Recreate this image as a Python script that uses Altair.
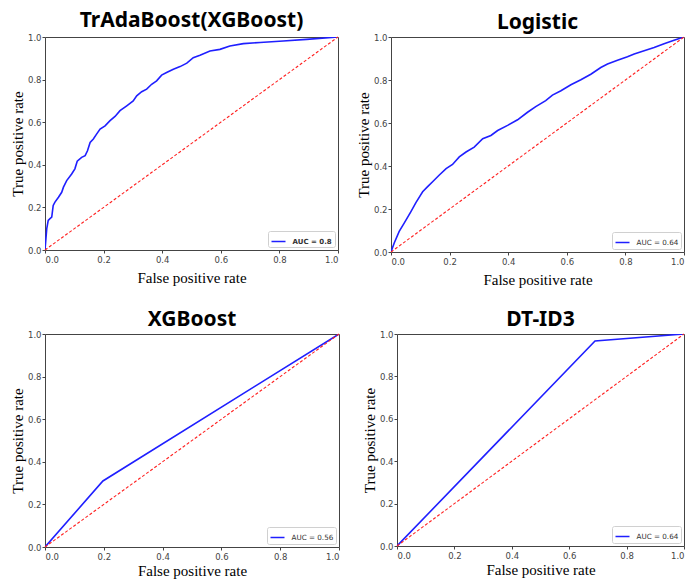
import altair as alt
import pandas as pd

titles = ["TrAdaBoost(XGBoost)", "Logistic", "XGBoost", "DT-ID3"]
auc_labels = ["AUC = 0.8", "AUC = 0.64", "AUC = 0.56", "AUC = 0.64"]
tick_values = [0.0, 0.2, 0.4, 0.6, 0.8, 1.0]
diag_x = [0.0, 1.0]
diag_y = [0.0, 1.0]

tr_fpr = [0, 0.006, 0.011, 0.017, 0.023, 0.028, 0.034, 0.046, 0.057, 0.063,
          0.074, 0.091, 0.102, 0.110, 0.125, 0.137, 0.145, 0.154, 0.165, 0.176,
          0.188, 0.205, 0.222, 0.239, 0.256, 0.279, 0.301, 0.313, 0.330, 0.347,
          0.364, 0.381, 0.398, 0.415, 0.438, 0.461, 0.484, 0.506, 0.529, 0.563,
          0.597, 0.631, 0.677, 0.734, 0.813, 0.893, 1.0]
tr_tpr = [0, 0.10, 0.139, 0.147, 0.154, 0.209, 0.225, 0.248, 0.271, 0.295,
          0.326, 0.357, 0.381, 0.417, 0.435, 0.443, 0.466, 0.505, 0.521, 0.544,
          0.568, 0.583, 0.607, 0.627, 0.654, 0.677, 0.700, 0.724, 0.743, 0.755,
          0.778, 0.794, 0.821, 0.833, 0.849, 0.861, 0.877, 0.903, 0.914, 0.934,
          0.942, 0.958, 0.969, 0.974, 0.981, 0.989, 1.0]

lg_fpr = [0, 0.011, 0.028, 0.045, 0.068, 0.085, 0.108, 0.125, 0.142, 0.165,
          0.188, 0.210, 0.233, 0.256, 0.284, 0.313, 0.341, 0.364, 0.398, 0.432,
          0.466, 0.494, 0.528, 0.551, 0.580, 0.614, 0.648, 0.682, 0.716, 0.739,
          0.773, 0.807, 0.830, 0.864, 0.898, 0.932, 0.966, 1.0]
lg_tpr = [0, 0.042, 0.096, 0.134, 0.188, 0.230, 0.280, 0.304, 0.327, 0.358,
          0.388, 0.407, 0.442, 0.465, 0.488, 0.527, 0.542, 0.565, 0.589, 0.615,
          0.650, 0.676, 0.704, 0.730, 0.750, 0.778, 0.801, 0.827, 0.858, 0.874,
          0.892, 0.908, 0.921, 0.936, 0.951, 0.969, 0.985, 1.0]

xgb_fpr = [0.0, 0.197, 1.0]
xgb_tpr = [0.0, 0.310, 1.0]

dt_fpr = [0.0, 0.690, 1.0]
dt_tpr = [0.0, 0.967, 1.0]

BLUE = "#1f1fff"
RED = "#ff2020"


def panel(title, label, fpr, tpr, w, h, bold=False, title_offset=0, xtitle_pad=7):
    df = pd.DataFrame({"fpr": fpr, "tpr": tpr, "i": list(range(len(fpr))), "label": [label] * len(fpr)})
    diag = pd.DataFrame({"fpr": diag_x, "tpr": diag_y})
    xs = alt.Scale(domain=[0, 1], nice=False, zero=False)
    ys = alt.Scale(domain=[0, 1], nice=False, zero=False)
    xax = alt.Axis(title="False positive rate", values=tick_values, format=".1f", titlePadding=xtitle_pad)
    yax = alt.Axis(title="True positive rate", values=tick_values, format=".1f", titlePadding=2, labelPadding=1)
    roc = alt.Chart(df).mark_line(strokeWidth=1.6, clip=True).encode(
        x=alt.X("fpr:Q", scale=xs, axis=xax),
        y=alt.Y("tpr:Q", scale=ys, axis=yax),
        order="i:Q",
        color=alt.Color(
            "label:N",
            scale=alt.Scale(domain=[label], range=[BLUE]),
            legend=alt.Legend(
                title=None, orient="bottom-right", symbolType="stroke", symbolSize=196,
                symbolStrokeWidth=1.5, labelFontSize=7.0 if bold else 7.2, labelFont="DejaVu Sans",
                labelFontWeight="bold" if bold else "normal", labelColor="#333333",
                padding=2.5, offset=3, strokeColor="#d0d0d0", fillColor="white",
                cornerRadius=2, labelOffset=6,
            ),
        ),
    )
    ref = alt.Chart(diag).mark_line(strokeWidth=1.1, strokeDash=[3, 2], color=RED).encode(
        x=alt.X("fpr:Q", scale=xs),
        y=alt.Y("tpr:Q", scale=ys),
    )
    return alt.layer(roc, ref).properties(
        width=w, height=h,
        title=alt.Title(title, offset=title_offset),
    )


p1 = panel(titles[0], auc_labels[0], tr_fpr, tr_tpr, 293, 213, bold=True, title_offset=2)
p2 = panel(titles[1], auc_labels[1], lg_fpr, lg_tpr, 293, 215, title_offset=0)
p3 = panel(titles[2], auc_labels[2], xgb_fpr, xgb_tpr, 294, 213, title_offset=0, xtitle_pad=3)
p4 = panel(titles[3], auc_labels[3], dt_fpr, dt_tpr, 287, 212, title_offset=0, xtitle_pad=3)

row1 = alt.hconcat(p1, p2, spacing=14).resolve_scale(color="independent")
row2 = alt.hconcat(p3, p4, spacing=19).resolve_scale(color="independent")

chart = alt.vconcat(row1, row2, spacing=20).resolve_scale(color="independent").properties(
    padding={"left": 1, "top": 1, "right": 0, "bottom": 0}
).configure_axis(
    labelFont="DejaVu Sans", labelFontSize=8.5, labelColor="#444444",
    tickColor="#444444", tickSize=3, labelPadding=2, domain=False, grid=False,
    titleFont="Liberation Serif", titleFontSize=15, titleFontWeight="normal", titleColor="black",
).configure_view(
    stroke="#444444", strokeWidth=1,
).configure_title(
    font="Noto Sans", fontSize=21, fontWeight="bold", color="black",
)

chart.save("out.html", embed_options={"renderer": "svg", "actions": False})
